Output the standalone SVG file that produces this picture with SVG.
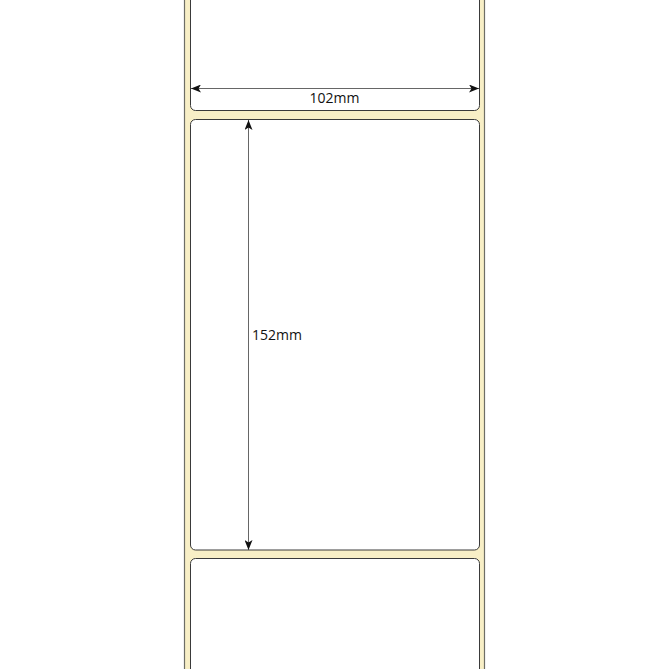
<svg xmlns="http://www.w3.org/2000/svg" width="669" height="669" viewBox="0 0 669 669">
<style>
.liner{fill:#f8efc6;stroke:#6e6e66;stroke-width:1.2}
.label{fill:#fff;stroke:#3a3a3a;stroke-width:1}
.dim{stroke:#666;stroke-width:1;fill:none}
.t{font-family:"Open Sans","Liberation Sans",sans-serif;font-size:14px;fill:#111}
</style>
<defs>
<marker id="ah" viewBox="0 0 10 8" refX="10" refY="4" markerWidth="10" markerHeight="8" markerUnits="userSpaceOnUse" orient="auto-start-reverse">
<path d="M0,0 L10,4 L0,8 L2.5,4 Z" fill="#111"/>
</marker>
</defs>
<rect width="669" height="669" fill="#fff"/>
<g id="liner"><rect class="liner" x="184.5" y="-5" width="300" height="680"/></g>
<g id="label1"><rect class="label" x="190.5" y="-20" width="289" height="130.5" rx="5"/></g>
<g id="label2"><rect class="label" x="190.5" y="119.5" width="289" height="430.5" rx="5"/></g>
<g id="label3"><rect class="label" x="190.5" y="558.5" width="289" height="130" rx="5"/></g>
<g id="connectors">
<line class="dim" x1="191" y1="88.5" x2="479" y2="88.5" marker-start="url(#ah)" marker-end="url(#ah)"/>
<line class="dim" x1="248.5" y1="120" x2="248.5" y2="550" marker-start="url(#ah)" marker-end="url(#ah)"/>
</g>
<text class="t" x="334.5" y="102.5" text-anchor="middle">102mm</text>
<text class="t" x="252" y="339.5">152mm</text>
</svg>
